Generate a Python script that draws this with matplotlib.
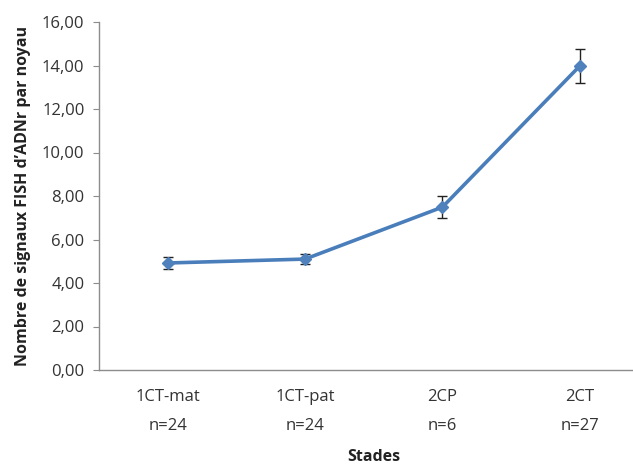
import numpy as np
import matplotlib
matplotlib.use("Agg")
import matplotlib.pyplot as plt
from matplotlib.ticker import FuncFormatter

stades = ['1CT-mat', '1CT-pat', '2CP', '2CT']
effectifs = ['n=24', 'n=24', 'n=6', 'n=27']
moyennes = [4.92, 5.10, 7.49, 13.98]
erreurs = [0.28, 0.22, 0.50, 0.78]

plt.rcParams['font.family'] = ['Open Sans', 'DejaVu Sans']

fig = plt.figure(figsize=(6.33, 4.67), dpi=100)
# x axis runs off the right edge like the cropped original
ax = fig.add_axes([99 / 633, 97 / 467, 549.5 / 633, 348 / 467])

x = np.arange(len(stades))
ax.errorbar(x, moyennes, yerr=erreurs, color='#4A7EBB', lw=2.6,
            marker='D', ms=6.5, mfc='#4F81BD', mec='#4F81BD',
            ecolor='#222222', elinewidth=1, capsize=3.5, capthick=1, zorder=3)

ax.set_xlim(-0.5, len(stades) - 0.5)
ax.set_ylim(0, 16)
ax.set_yticks(np.arange(0, 17, 2))
ax.yaxis.set_major_formatter(FuncFormatter(lambda v, p: f"{v:.2f}".replace('.', ',')))
ax.set_xticks(x)
ax.set_xticklabels([f"{s}\n{n}" for s, n in zip(stades, effectifs)])
for lab in ax.get_xticklabels():
    lab.set_linespacing(2.05)

for s in ['top', 'right']:
    ax.spines[s].set_visible(False)
for s in ['left', 'bottom']:
    ax.spines[s].set_color('#8c8c8c')
    ax.spines[s].set_linewidth(1)

ax.tick_params(axis='y', length=4.5, color='#8c8c8c', labelsize=12, labelcolor='#333333', pad=6)
ax.tick_params(axis='x', length=0, labelsize=12, labelcolor='#333333', pad=14)

ax.set_ylabel("Nombre de signaux FISH d\u2019ADNr par noyau", fontsize=11.5,
              fontweight='bold', color='#222222', labelpad=8)
ax.set_xlabel("Stades", fontsize=11.5, fontweight='bold', color='#222222', labelpad=11)

fig.savefig('out.png', dpi=100)
